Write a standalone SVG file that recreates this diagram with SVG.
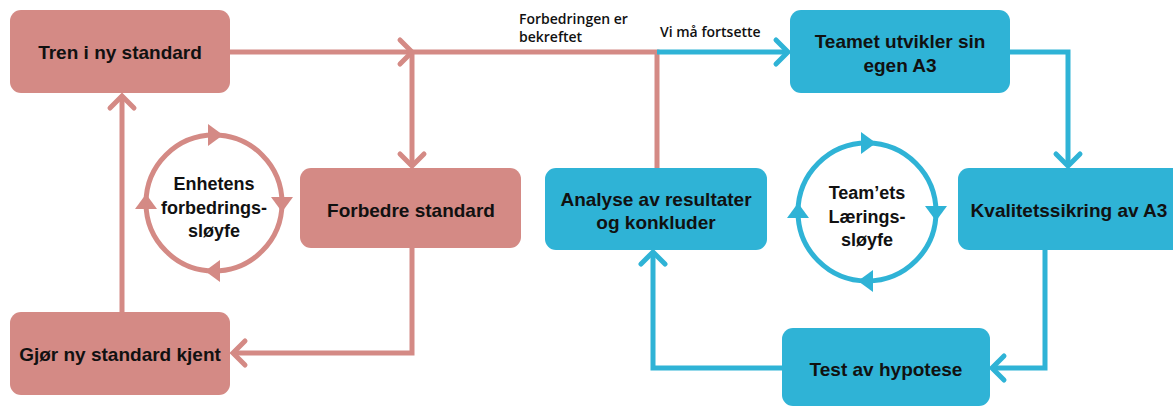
<svg xmlns="http://www.w3.org/2000/svg" width="1173" height="409" viewBox="0 0 1173 409">
  <style>
    .pink { fill: #D48A85; }
    .blue { fill: #2FB3D6; }
    .lp { fill: none; stroke: #D48A85; stroke-width: 5; stroke-linejoin: miter; }
    .lb { fill: none; stroke: #2FB3D6; stroke-width: 5; stroke-linejoin: miter; }
    .node { font-family: "Liberation Sans", Arial, sans-serif; font-weight: bold; font-size: 19px; fill: #111; text-anchor: middle; }
    .loop { font-family: "Liberation Sans", Arial, sans-serif; font-weight: bold; font-size: 18px; fill: #111; text-anchor: middle; }
    .lbl { font-family: "Open Sans", "Liberation Sans", sans-serif; font-weight: 600; font-size: 14px; fill: #111; }
  </style>
  <defs>
    <marker id="chevP" markerUnits="userSpaceOnUse" viewBox="-16 -16 32 32" markerWidth="32" markerHeight="32" refX="0" refY="0" orient="auto">
      <path d="M-12,-12 L0,0 L-12,12" fill="none" stroke="#D48A85" stroke-width="5" stroke-linecap="round"/>
    </marker>
    <marker id="chevB" markerUnits="userSpaceOnUse" viewBox="-16 -16 32 32" markerWidth="32" markerHeight="32" refX="0" refY="0" orient="auto">
      <path d="M-12,-12 L0,0 L-12,12" fill="none" stroke="#2FB3D6" stroke-width="5" stroke-linecap="round"/>
    </marker>
  </defs>

  <g id="connectors">
    <!-- improvement loop -->
    <path class="lp" d="M230,52 H412" marker-end="url(#chevP)"/>
    <path class="lp" d="M410,52 H657 V168"/>
    <path class="lp" d="M412,52 V166" marker-end="url(#chevP)"/>
    <path class="lp" d="M412,248 V353 H233" marker-end="url(#chevP)"/>
    <path class="lp" d="M122,312 V96" marker-end="url(#chevP)"/>
    <!-- learning loop -->
    <path class="lb" d="M657,52 H788" marker-end="url(#chevB)"/>
    <path class="lb" d="M1010,52 H1068 V166" marker-end="url(#chevB)"/>
    <path class="lb" d="M1045,250 V368 H992" marker-end="url(#chevB)"/>
    <path class="lb" d="M782,368 H653 V252" marker-end="url(#chevB)"/>
    <text class="lbl" x="519" y="24">Forbedringen er</text>
    <text class="lbl" x="519" y="42">bekreftet</text>
    <text class="lbl" x="660" y="37">Vi må fortsette</text>
  </g>

  <g id="tren">
    <rect class="pink" x="10" y="10" width="220" height="83" rx="11"/>
    <text class="node" x="120" y="59">Tren i ny standard</text>
  </g>
  <g id="forbedre">
    <rect class="pink" x="300" y="168" width="221" height="80" rx="11"/>
    <text class="node" x="411" y="217">Forbedre standard</text>
  </g>
  <g id="gjor">
    <rect class="pink" x="10" y="312" width="220" height="83" rx="11"/>
    <text class="node" x="120" y="361">Gjør ny standard kjent</text>
  </g>
  <g id="enhetens-loop">
    <circle cx="214" cy="203" r="68" fill="none" stroke="#D48A85" stroke-width="5"/>
    <polygon class="pink" points="223,135 208,124 208,146"/>
    <polygon class="pink" points="282,212 271,197 293,197"/>
    <polygon class="pink" points="205,271 220,260 220,282"/>
    <polygon class="pink" points="146,194 135,209 157,209"/>
    <text class="loop" x="214" y="190">Enhetens</text>
    <text class="loop" x="214" y="214">forbedrings-</text>
    <text class="loop" x="214" y="237">sløyfe</text>
  </g>

  <g id="teamet">
    <rect class="blue" x="790" y="10" width="220" height="83" rx="11"/>
    <text class="node" x="900" y="48">Teamet utvikler sin</text>
    <text class="node" x="900" y="72">egen A3</text>
  </g>
  <g id="kvalitet">
    <rect class="blue" x="958" y="168" width="230" height="82" rx="11"/>
    <text class="node" x="1069" y="217">Kvalitetssikring av A3</text>
  </g>
  <g id="test">
    <rect class="blue" x="782" y="328" width="208" height="78" rx="11"/>
    <text class="node" x="886" y="376">Test av hypotese</text>
  </g>
  <g id="analyse">
    <rect class="blue" x="545" y="168" width="222" height="82" rx="11"/>
    <text class="node" x="656" y="206">Analyse av resultater</text>
    <text class="node" x="656" y="229">og konkluder</text>
  </g>
  <g id="team-loop">
    <circle cx="867" cy="212" r="69" fill="none" stroke="#2FB3D6" stroke-width="5"/>
    <polygon class="blue" points="876,143 861,132 861,154"/>
    <polygon class="blue" points="936,221 925,206 947,206"/>
    <polygon class="blue" points="858,281 873,270 873,292"/>
    <polygon class="blue" points="798,203 787,218 809,218"/>
    <text class="loop" x="867" y="199">Team’ets</text>
    <text class="loop" x="867" y="223">Lærings-</text>
    <text class="loop" x="867" y="246">sløyfe</text>
  </g>
</svg>
